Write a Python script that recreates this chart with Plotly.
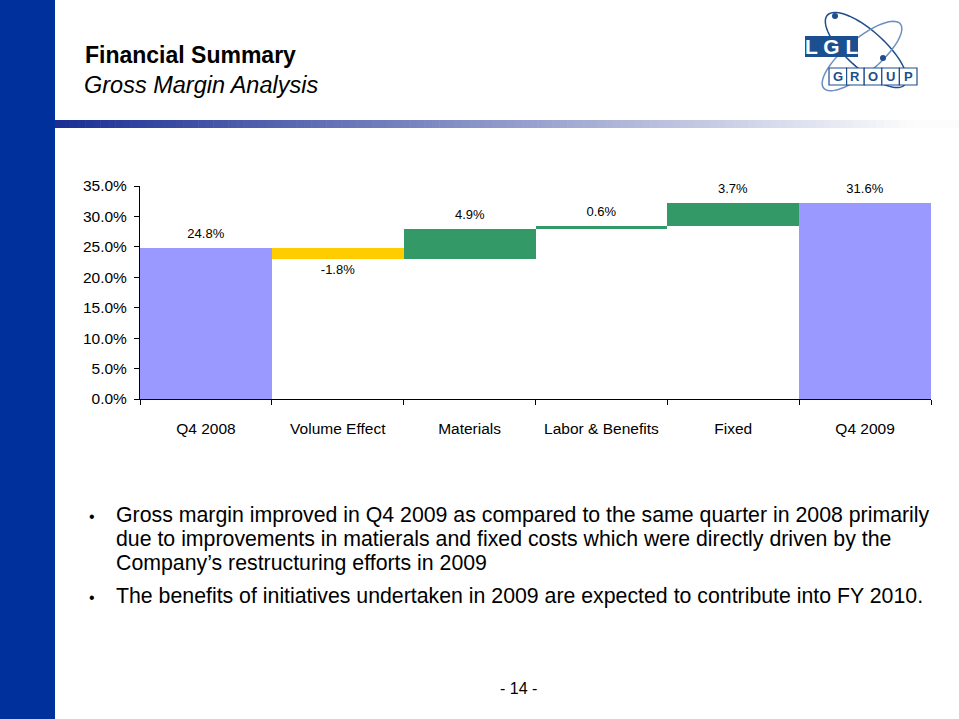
import numpy as np
import plotly.graph_objects as go

# ---------------- data ----------------
categories = ["Q4 2008", "Volume Effect", "Materials", "Labor & Benefits", "Fixed", "Q4 2009"]
measures = ["absolute", "relative", "relative", "relative", "relative", "total"]
values = [24.8, -1.8, 4.9, 0.6, 3.7, None]
labels = ["24.8%", "-1.8%", "4.9%", "0.6%", "3.7%", "31.6%"]
y_ticks = [0, 5, 10, 15, 20, 25, 30, 35]

title_main = "Financial Summary"
title_sub = "Gross Margin Analysis"
bullets = [
    ["Gross margin improved in Q4 2009 as compared to the same quarter in 2008 primarily",
     "due to improvements in matierals and fixed costs which were directly driven by the",
     "Company\u2019s restructuring efforts in 2009"],
    ["The benefits of initiatives undertaken in 2009 are expected to contribute into FY 2010."],
]
page_no = "- 14 -"

W, H = 959, 719
FONT = "Liberation Sans, Arial, sans-serif"


def px(x):
    return x / W


def py(y):
    return 1 - y / H


# labels sit a little further from the bar: add a small invisible line (base font is tiny)
def lab(t):
    return "<span style='font-size:13px'>" + t + "</span>"


pad = "<span style='color:rgba(0,0,0,0)'>.</span>"
label_text = [(pad + "<br>" + lab(t)) if (v is not None and v < 0) else (lab(t) + "<br>" + pad)
              for t, v in zip(labels, values)]

fig = go.Figure()
fig.add_trace(go.Waterfall(
    x=categories, y=values, measure=measures,
    text=label_text, textposition="outside", cliponaxis=False, constraintext="none",
    textfont=dict(family=FONT, size=5, color="#000000"),
    increasing=dict(marker=dict(color="#339966", line=dict(width=0))),
    decreasing=dict(marker=dict(color="#FFCC00", line=dict(width=0))),
    totals=dict(marker=dict(color="#9999FF", line=dict(width=0))),
    connector=dict(visible=False),
    hoverinfo="skip",
))

shapes = []
annotations = []

# left band
shapes.append(dict(type="rect", xref="paper", yref="paper", x0=px(0), x1=px(55), y0=py(H), y1=py(0),
                   fillcolor="#00309B", line=dict(width=0), layer="below"))
# gradient bar
n = 120
c0 = np.array([28, 48, 148])
c1 = np.array([252, 252, 253])
x_start, x_end = 55, 959
for i in range(n):
    t = i / (n - 1)
    c = c0 + (c1 - c0) * min(1.0, t * 1.05)
    xa = x_start + (x_end - x_start) * i / n
    xb = x_start + (x_end - x_start) * (i + 1) / n + 0.6
    shapes.append(dict(type="rect", xref="paper", yref="paper", x0=px(xa), x1=px(xb), y0=py(128), y1=py(120),
                       fillcolor="rgb(%d,%d,%d)" % tuple(c.astype(int)), line=dict(width=0), layer="below"))

# logo: orbits
def ellipse_path(cx, cy, a, b, ang):
    th = np.linspace(0, 2 * np.pi, 80)
    r = np.deg2rad(ang)
    xs = cx + a * np.cos(th) * np.cos(r) - b * np.sin(th) * np.sin(r)
    ys = cy + a * np.cos(th) * np.sin(r) + b * np.sin(th) * np.cos(r)
    pts = ["%s%.5f,%.5f" % ("M" if k == 0 else "L", px(x), py(y)) for k, (x, y) in enumerate(zip(xs, ys))]
    return " ".join(pts) + " Z"


logo_blue = "#1E4E8C"
shapes.append(dict(type="path", xref="paper", yref="paper", path=ellipse_path(866, 50, 52, 19, 42),
                   line=dict(color=logo_blue, width=1.5)))
shapes.append(dict(type="path", xref="paper", yref="paper", path=ellipse_path(862, 56, 50, 17, -40),
                   line=dict(color="#6C8FBF", width=1.5)))
# LGL box
shapes.append(dict(type="rect", xref="paper", yref="paper", x0=px(805), x1=px(858), y0=py(57), y1=py(36),
                   fillcolor="#1B4F8F", line=dict(width=0)))
annotations.append(dict(x=px(831.5), y=py(46.5), xref="paper", yref="paper", text="L G L", showarrow=False,
                        font=dict(family=FONT, size=21, color="white", weight="bold"), xanchor="center", yanchor="middle"))
# GROUP boxes
gx0, gx1 = 829, 917
bw = (gx1 - gx0) / 5
for k, ch in enumerate("GROUP"):
    shapes.append(dict(type="rect", xref="paper", yref="paper", x0=px(gx0 + k * bw), x1=px(gx0 + (k + 1) * bw),
                       y0=py(85), y1=py(68), fillcolor="white", line=dict(color=logo_blue, width=1.2)))
    annotations.append(dict(x=px(gx0 + (k + 0.5) * bw), y=py(76.5), xref="paper", yref="paper", text=ch,
                            showarrow=False, font=dict(family=FONT, size=13, color="#1B4F8F", weight="bold"),
                            xanchor="center", yanchor="middle"))
# dots on orbits
for (dx, dy) in [(835, 16), (883, 58)]:
    shapes.append(dict(type="circle", xref="paper", yref="paper", x0=px(dx - 3), x1=px(dx + 3),
                       y0=py(dy + 3), y1=py(dy - 3), fillcolor=logo_blue, line=dict(width=0)))

# titles
annotations.append(dict(x=px(83), y=py(55), xref="paper", yref="paper", text=title_main, showarrow=False,
                        xanchor="left", yanchor="middle",
                        font=dict(family=FONT, size=23, color="black", weight="bold")))
annotations.append(dict(x=px(82), y=py(85), xref="paper", yref="paper", text=title_sub, showarrow=False,
                        xanchor="left", yanchor="middle",
                        font=dict(family=FONT, size=23.5, color="black", style="italic")))

# bullets
line_y = [[515, 539, 563], [596]]
for lines, ys in zip(bullets, line_y):
    annotations.append(dict(x=px(92), y=py(ys[0] + 1), xref="paper", yref="paper", text="\u2022", showarrow=False,
                            xanchor="center", yanchor="middle", font=dict(family=FONT, size=16, color="black")))
    for txt, yy in zip(lines, ys):
        annotations.append(dict(x=px(114), y=py(yy), xref="paper", yref="paper", text=txt, showarrow=False,
                                xanchor="left", yanchor="middle",
                                font=dict(family=FONT, size=21.3, color="black")))

annotations.append(dict(x=px(518), y=py(688), xref="paper", yref="paper", text=page_no, showarrow=False,
                        xanchor="center", yanchor="middle", font=dict(family=FONT, size=16, color="black")))

fig.update_layout(
    width=W, height=H,
    margin=dict(l=0, r=0, t=0, b=0),
    paper_bgcolor="white", plot_bgcolor="white",
    showlegend=False,
    waterfallgap=0,
    shapes=shapes,
    annotations=annotations,
    font=dict(family=FONT, color="black"),
    xaxis=dict(domain=[px(140), px(931)], showline=True, linecolor="black", linewidth=1,
               ticks="outside", tickson="boundaries", ticklen=5, tickcolor="black",
               ticklabelstandoff=15,
               tickfont=dict(family=FONT, size=15.5, color="black"), showgrid=False, zeroline=False,
               automargin=False),
    yaxis=dict(domain=[py(399), py(186)], range=[0, 35], tickvals=y_ticks,
               ticktext=["%.1f%%" % v for v in y_ticks],
               ticklabelstandoff=4,
               showline=True, linecolor="black", linewidth=1, ticks="outside", ticklen=5, tickcolor="black",
               tickfont=dict(family=FONT, size=15.5, color="black"), showgrid=False, zeroline=False,
               automargin=False),
)

fig.write_html("out.html", config={"displayModeBar": False},
               post_script="document.body.style.margin='0';document.body.style.overflow='hidden';")
